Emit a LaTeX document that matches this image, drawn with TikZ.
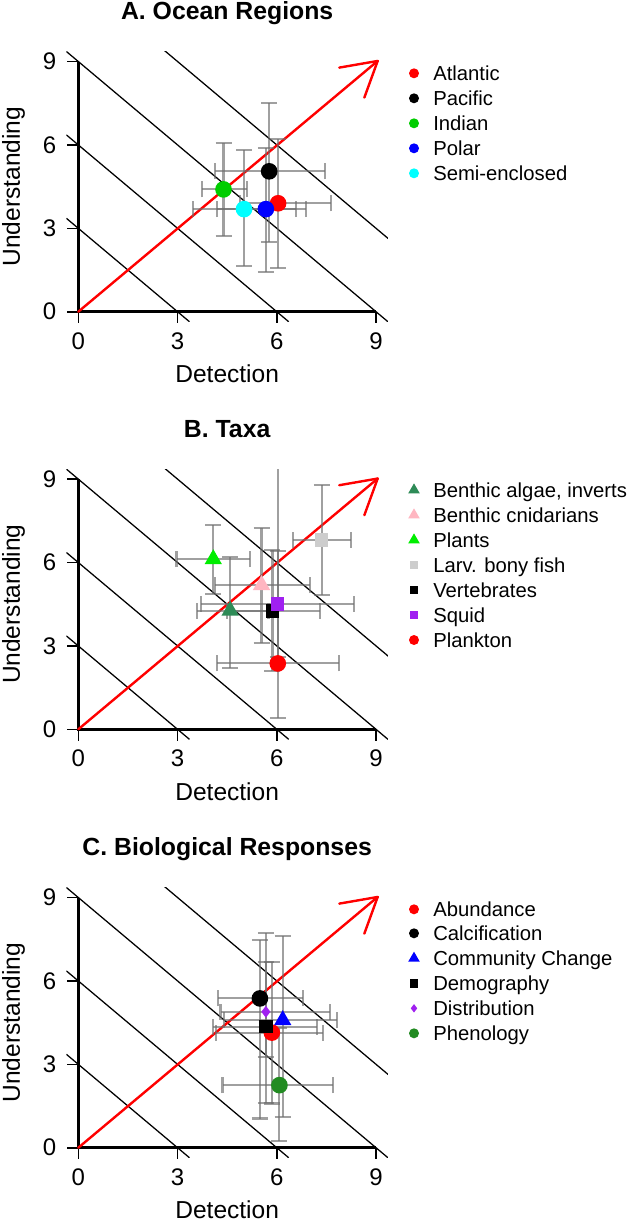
\documentclass[tikz,border=0pt]{standalone}
\usepackage{fontspec}
\setmainfont{Liberation Sans}
\usetikzlibrary{shapes.geometric}
\definecolor{seag}{RGB}{46,139,87}
\definecolor{plantg}{RGB}{0,238,0}
\definecolor{indg}{RGB}{0,205,0}
\definecolor{pinkc}{RGB}{255,182,193}
\definecolor{lgrey}{RGB}{205,205,205}
\definecolor{purp}{RGB}{160,32,240}
\definecolor{forg}{RGB}{34,139,34}
\definecolor{cyanc}{RGB}{0,255,255}
\definecolor{barc}{RGB}{110,110,110}
\newcommand\myframe[2]{%
  \begin{scope}
    \clip (-0.36,-0.36) rectangle (9.36,9.36);
    \foreach \cc in {3,6,9,12} \draw[diag] (-0.36,\cc+0.36) -- (\cc+0.36,-0.36);
  \end{scope}
  \draw[axisline] (0,9) -- (0,0) -- (9,0);
  \foreach \tk in {0,3,6,9} {
    \draw[tickline] (\tk,0) -- ++(0pt,-8.5pt);
    \draw[tickline] (0,\tk) -- ++(-8.5pt,0pt);
    \node[ticklab] (#1x\tk) at ([yshift=-22pt]\tk,0) {\tk};
    \node[ticklab, anchor=east] (#1y\tk) at ([xshift=-16.4pt]0,\tk) {\tk};
  }
  \node[axlab] (#1xl) at ([yshift=-46.6pt]4.5,0) {Detection};
  \node[axlab, rotate=90] (#1yl) at ([xshift=-48.6pt]0,4.5) {Understanding};
  \node[ttl, anchor=base] (#1ttl) at ([yshift=219pt]4.5,0) {#2};
  \coordinate (#1O) at (0,0);
  \coordinate (#1T) at (9.05,9.02);
  \draw[redline] (#1O) -- (#1T);
  \draw[redline] (#1T) -- ++(-28.8pt,-5pt);
  \draw[redline] (#1T) -- ++(-10pt,-27.5pt);
}
\newcommand\eb[6]{%
  \draw[ebar] (#3,#2) -- (#4,#2);
  \draw[ebar] (#1,#5) -- (#1,#6);
  \draw[ebar] ([yshift=-6pt]#3,#2) -- ([yshift=6pt]#3,#2);
  \draw[ebar] ([yshift=-6pt]#4,#2) -- ([yshift=6pt]#4,#2);
  \draw[ebar] ([xshift=-6pt]#1,#5) -- ([xshift=6pt]#1,#5);
  \draw[ebar] ([xshift=-6pt]#1,#6) -- ([xshift=6pt]#1,#6);
}
\newcommand\legrow[4]{%
  \node[#2] (#1m) at (414,#3) {};
  \node[legtext] (#1t) at (433,#3+7) {#4};
}
\begin{document}
\begin{tikzpicture}[x=0.75pt,y=-0.75pt,
  diag/.style={black, line width=0.95pt},
  axisline/.style={black, line width=2pt},
  tickline/.style={black, line width=1.2pt},
  redline/.style={red, line width=1.8pt, line cap=round},
  ebar/.style={draw=barc, draw opacity=0.65, line width=1.6pt},
  ticklab/.style={font=\fontsize{18pt}{21pt}\selectfont, inner sep=0pt},
  axlab/.style={font=\fontsize{18.4pt}{22pt}\selectfont, inner sep=0pt},
  ttl/.style={font=\bfseries\fontsize{18.6pt}{22pt}\selectfont, inner sep=0pt},
  legtext/.style={font=\fontsize{15.2pt}{18pt}\selectfont, inner sep=0pt, anchor=base west},
  mk/.style={inner sep=0pt, draw=none},
  circ/.style={mk, circle, minimum size=12.5pt},
  tri/.style={mk, regular polygon, regular polygon sides=3, minimum size=15pt},
  sq/.style={mk, rectangle, minimum size=10pt},
  dia/.style={mk, diamond, minimum width=7pt, minimum height=9pt},
  lcirc/.style={mk, circle, minimum size=7.5pt},
  ltri/.style={mk, regular polygon, regular polygon sides=3, minimum size=10pt},
  lsq/.style={mk, rectangle, minimum size=6.3pt},
  ldia/.style={mk, diamond, minimum width=5pt, minimum height=6.5pt}]
\useasboundingbox (0,0) rectangle (634,1222);
\fill[white] (0,0) rectangle (634,1222);

% ---------------- Panel A ----------------
\begin{scope}[shift={(78.3,311.7)}, x=24.81pt, y=20.85pt]
  \myframe{A}{A. Ocean Regions}
  \begin{scope}
    \clip (-0.36,-0.36) rectangle (9.36,9.36);
    \eb{6.04}{3.90}{4.90}{7.63}{1.56}{6.20}
    \eb{5.77}{5.05}{4.13}{7.45}{2.52}{7.52}
    \eb{4.39}{4.40}{3.73}{5.09}{2.73}{6.08}
    \eb{5.67}{3.69}{4.20}{6.89}{1.44}{5.90}
    \eb{5.01}{3.69}{3.46}{6.58}{1.64}{5.82}
  \end{scope}
  \node[circ, fill=red] (pAtl) at (6.04,3.90) {};
  \node[circ, fill=black] (pPac) at (5.77,5.05) {};
  \node[circ, fill=indg] (pInd) at (4.39,4.40) {};
  \node[circ, fill=blue] (pPol) at (5.67,3.69) {};
  \node[circ, fill=cyanc] (pSem) at (5.01,3.69) {};
\end{scope}
\legrow{lA1}{lcirc, fill=red}{73.3}{Atlantic}
\legrow{lA2}{lcirc, fill=black}{98.3}{Pacific}
\legrow{lA3}{lcirc, fill=indg}{123.3}{Indian}
\legrow{lA4}{lcirc, fill=blue}{148.3}{Polar}
\legrow{lA5}{lcirc, fill=cyanc}{173.3}{Semi-enclosed}

% ---------------- Panel B ----------------
\begin{scope}[shift={(78.3,729.3)}, x=24.81pt, y=20.85pt]
  \myframe{B}{B. Taxa}
  \begin{scope}
    \clip (-0.36,-0.36) rectangle (9.36,9.36);
    \eb{4.59}{4.27}{3.58}{5.75}{2.19}{6.21}
    \eb{5.54}{5.19}{4.13}{7.00}{3.09}{7.25}
    \eb{4.08}{6.12}{2.97}{5.19}{4.87}{7.35}
    \eb{7.36}{6.81}{6.50}{8.24}{4.83}{8.79}
    \eb{5.87}{4.26}{4.50}{7.31}{2.11}{6.45}
    \eb{6.03}{4.51}{3.70}{8.33}{2.60}{6.40}
    \eb{6.03}{2.37}{4.20}{7.88}{0.40}{10.5}
  \end{scope}
  \node[tri, fill=seag] (pAlg) at (4.59,4.27) {};
  \node[tri, fill=pinkc] (pCni) at (5.54,5.19) {};
  \node[tri, fill=plantg] (pPla) at (4.08,6.12) {};
  \node[sq, fill=lgrey] (pLar) at (7.36,6.81) {};
  \node[sq, fill=black] (pVer) at (5.87,4.26) {};
  \node[sq, fill=purp] (pSqu) at (6.03,4.51) {};
  \node[circ, fill=red] (pPlk) at (6.03,2.37) {};
\end{scope}
\legrow{lB1}{ltri, fill=seag}{490}{Benthic algae, inverts}
\legrow{lB2}{ltri, fill=pinkc}{515}{Benthic cnidarians}
\legrow{lB3}{ltri, fill=plantg}{540}{Plants}
\legrow{lB4}{lsq, fill=lgrey}{565}{Larv. bony fish}
\legrow{lB5}{lsq, fill=black}{590}{Vertebrates}
\legrow{lB6}{lsq, fill=purp}{615}{Squid}
\legrow{lB7}{lcirc, fill=red}{640}{Plankton}

% ---------------- Panel C ----------------
\begin{scope}[shift={(78.3,1147.7)}, x=24.81pt, y=20.85pt]
  \myframe{C}{C. Biological Responses}
  \begin{scope}
    \clip (-0.36,-0.36) rectangle (9.36,9.36);
    \eb{5.85}{4.14}{4.15}{7.41}{1.59}{6.69}
    \eb{5.49}{5.37}{4.23}{6.78}{1.05}{7.47}
    \eb{6.18}{4.59}{4.40}{7.81}{1.11}{7.61}
    \eb{5.67}{4.35}{4.08}{7.21}{3.27}{7.71}
    \eb{5.67}{4.89}{4.30}{7.60}{1.60}{6.69}
    \eb{6.08}{2.25}{4.36}{7.71}{0.24}{4.30}
  \end{scope}
  \node[circ, fill=red] (pAbu) at (5.85,4.14) {};
  \node[circ, fill=black] (pCal) at (5.49,5.37) {};
  \node[tri, fill=blue] (pCom) at (6.18,4.59) {};
  \node[sq, fill=black] (pDem) at (5.67,4.35) {};
  \node[dia, fill=purp] (pDis) at (5.67,4.89) {};
  \node[circ, fill=forg] (pPhe) at (6.08,2.25) {};
\end{scope}
\legrow{lC1}{lcirc, fill=red}{909.3}{Abundance}
\legrow{lC2}{lcirc, fill=black}{933.3}{Calcification}
\legrow{lC3}{ltri, fill=blue}{958.3}{Community Change}
\legrow{lC4}{lsq, fill=black}{983.3}{Demography}
\legrow{lC5}{ldia, fill=purp}{1008.3}{Distribution}
\legrow{lC6}{lcirc, fill=forg}{1033.3}{Phenology}
\end{tikzpicture}
\end{document}
